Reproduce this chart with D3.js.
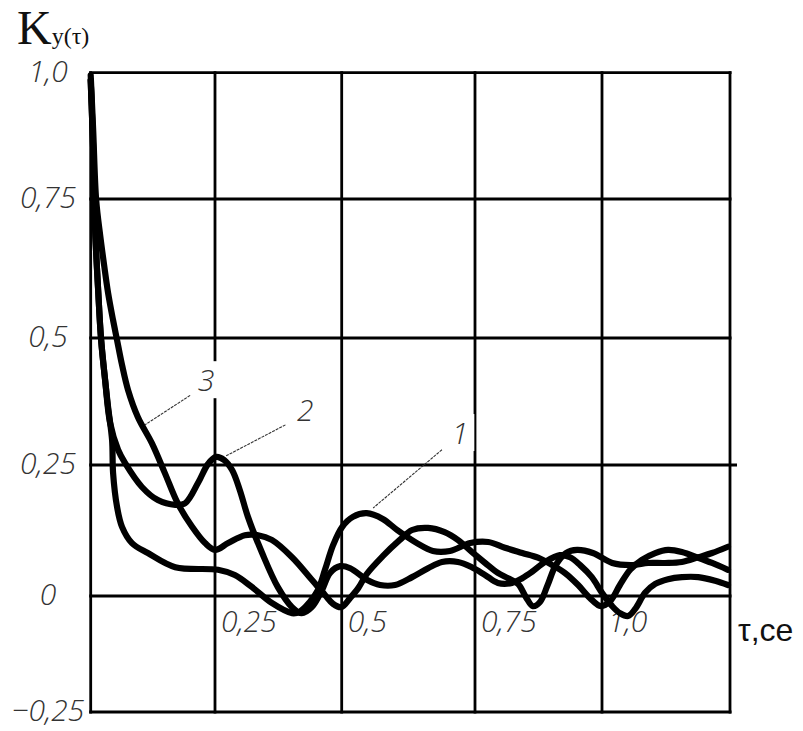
<!DOCTYPE html>
<html>
<head>
<meta charset="utf-8">
<script src="https://cdn.jsdelivr.net/npm/d3@7"></script>
<style>
  body { margin: 0; background: #fff; }
  svg { display: block; }
  .tick { font-family: "Open Sans", "DejaVu Sans Condensed", sans-serif; font-style: italic; font-weight: 300; font-stretch: 90%; font-size: 30px; fill: #333; }
</style>
</head>
<body>
<div id="chart"></div>
<script>
// axis ticks and labels
const xTicks = [0, 0.25, 0.5, 0.75, 1.0, 1.25];
const xTickLabels = ["", "0,25", "0,5", "0,75", "1,0", ""];
const yTicks = [-0.25, 0, 0.25, 0.5, 0.75, 1.0];
const yTickLabels = ["\u22120,25", "0", "0,25", "0,5", "0,75", "1,0"];

// curves: [tau, K]
const curve1 = [[0,0.985],[0.005,0.847],[0.009,0.694],[0.015,0.586],[0.021,0.496],[0.029,0.417],[0.035,0.364],[0.043,0.299],[0.045,0.235],[0.053,0.170],[0.063,0.132],[0.083,0.101],[0.115,0.082],[0.170,0.055],[0.256,0.050],[0.289,0.040],[0.323,0.017],[0.362,-0.015],[0.402,-0.037],[0.417,-0.034],[0.437,-0.013],[0.453,0.011],[0.467,0.050],[0.483,0.097],[0.501,0.132],[0.521,0.151],[0.547,0.158],[0.577,0.147],[0.604,0.126],[0.641,0.101],[0.671,0.086],[0.703,0.086],[0.741,0.101],[0.776,0.103],[0.809,0.092],[0.843,0.082],[0.874,0.073],[0.902,0.059],[0.927,0.044],[0.953,0.021],[0.976,-0.004],[0.998,-0.022],[1.016,-0.011],[1.035,0.021],[1.055,0.050],[1.078,0.069],[1.104,0.082],[1.129,0.088],[1.156,0.084],[1.188,0.073],[1.215,0.063],[1.246,0.050]];
const curve2 = [[0,0.985],[0.005,0.847],[0.009,0.694],[0.015,0.586],[0.021,0.496],[0.029,0.417],[0.039,0.333],[0.055,0.280],[0.069,0.254],[0.103,0.208],[0.135,0.183],[0.170,0.174],[0.190,0.177],[0.216,0.216],[0.236,0.252],[0.252,0.266],[0.268,0.260],[0.284,0.240],[0.299,0.202],[0.315,0.151],[0.343,0.082],[0.374,0.017],[0.402,-0.024],[0.421,-0.037],[0.441,-0.024],[0.461,0.011],[0.477,0.044],[0.497,0.057],[0.516,0.053],[0.547,0.031],[0.572,0.021],[0.600,0.021],[0.632,0.036],[0.662,0.053],[0.688,0.065],[0.718,0.065],[0.744,0.055],[0.770,0.040],[0.795,0.025],[0.823,0.025],[0.843,0.034],[0.862,0.046],[0.888,0.065],[0.917,0.078],[0.937,0.074],[0.957,0.059],[0.980,0.036],[1.000,0.006],[1.020,-0.022],[1.035,-0.037],[1.051,-0.043],[1.066,-0.026],[1.084,0.006],[1.104,0.023],[1.129,0.032],[1.156,0.036],[1.188,0.036],[1.221,0.029],[1.246,0.021]];
const curve3 = [[0,0.995],[0.005,0.886],[0.011,0.748],[0.019,0.685],[0.027,0.631],[0.035,0.581],[0.045,0.532],[0.053,0.496],[0.063,0.447],[0.075,0.398],[0.095,0.344],[0.123,0.293],[0.149,0.235],[0.175,0.177],[0.204,0.132],[0.230,0.101],[0.250,0.088],[0.276,0.101],[0.309,0.116],[0.335,0.116],[0.362,0.107],[0.402,0.074],[0.441,0.031],[0.467,0.002],[0.483,-0.017],[0.499,-0.024],[0.516,-0.004],[0.531,0.015],[0.547,0.042],[0.577,0.076],[0.609,0.107],[0.632,0.126],[0.662,0.130],[0.693,0.122],[0.718,0.107],[0.744,0.084],[0.770,0.063],[0.795,0.044],[0.815,0.034],[0.835,0.023],[0.850,-0.002],[0.864,-0.022],[0.878,-0.013],[0.893,0.021],[0.909,0.059],[0.929,0.082],[0.951,0.088],[0.982,0.082],[1.020,0.063],[1.059,0.059],[1.090,0.063],[1.123,0.063],[1.156,0.065],[1.188,0.074],[1.215,0.082],[1.246,0.094]];

// curve number labels: text position and leader line, in data units
const curveNames = ["1", "2", "3"];
const nameAt = [[0.722, 0.309], [0.428, 0.354], [0.232, 0.413]];
const leaderFrom = [[0.688, 0.280], [0.389, 0.329], [0.200, 0.387]];
const leaderTo = [[0.559, 0.168], [0.272, 0.268], [0.109, 0.329]];

const width = 803, height = 731;

// hand drawn grid is a little uneven, so the scales follow each grid line
const x = d3.scaleLinear().domain(xTicks).range([90.7, 215, 341.7, 475, 602, 730]);
const y = d3.scaleLinear().domain(yTicks).range([712, 596, 465, 338, 199, 72.7]);

const svg = d3.select("#chart").append("svg")
    .attr("width", width)
    .attr("height", height);

// grid
svg.append("g").selectAll("line")
    .data(xTicks)
    .join("line")
    .attr("x1", d => x(d)).attr("x2", d => x(d))
    .attr("y1", y(1.0) - 1.5).attr("y2", y(-0.25) + 1.5)
    .attr("stroke", "#000")
    .attr("stroke-width", 2.8);

svg.append("g").selectAll("line")
    .data(yTicks)
    .join("line")
    .attr("x1", x(0) - 1.5)
    .attr("x2", d => d === 0.25 ? x(1.25) + 7 : x(1.25) + 1.5)
    .attr("y1", d => y(d)).attr("y2", d => y(d))
    .attr("stroke", "#000")
    .attr("stroke-width", 2.8);

// tick labels
svg.append("g").selectAll("text")
    .data(yTicks)
    .join("text")
    .attr("class", "tick")
    .attr("x", 48)
    .attr("y", d => y(d) + 9)
    .attr("text-anchor", "middle")
    .text((d, i) => yTickLabels[i]);

svg.append("g").selectAll("text")
    .data(xTicks)
    .join("text")
    .attr("class", "tick")
    .attr("x", d => x(d) + 6)
    .attr("y", 632)
    .text((d, i) => xTickLabels[i]);

// curves
const line = d3.line()
    .x(d => x(d[0]))
    .y(d => y(d[1]))
    .curve(d3.curveCatmullRom.alpha(0.5));

svg.append("g").selectAll("path")
    .data([curve1, curve2, curve3])
    .join("path")
    .attr("d", line)
    .attr("fill", "none")
    .attr("stroke", "#000")
    .attr("stroke-width", 6.2)
    .attr("stroke-linejoin", "round")
    .attr("stroke-linecap", "round");

// curve numbers with thin leaders
const notes = svg.append("g");
curveNames.forEach((name, i) => {
    const t = notes.append("text")
        .attr("class", "tick")
        .attr("x", x(nameAt[i][0]))
        .attr("y", y(nameAt[i][1]) + 9)
        .attr("text-anchor", "middle")
        .text(name);
    const b = t.node().getBBox();
    notes.insert("rect", "text")
        .attr("x", b.x - 6).attr("y", b.y + 2)
        .attr("width", b.width + 12).attr("height", b.height - 4)
        .attr("fill", "#fff");
    notes.append("line")
        .attr("x1", x(leaderFrom[i][0])).attr("y1", y(leaderFrom[i][1]))
        .attr("x2", x(leaderTo[i][0])).attr("y2", y(leaderTo[i][1]))
        .attr("stroke", "#333")
        .attr("stroke-width", 1.1)
        .attr("stroke-dasharray", "3,1");
});

// axis titles
const title = svg.append("text")
    .attr("x", 17)
    .attr("y", 44)
    .attr("font-family", "'Liberation Serif', 'Times New Roman', serif")
    .attr("fill", "#111");
title.append("tspan").attr("font-size", 48).text("K");
title.append("tspan").attr("font-size", 24).text("y(\u03c4)");

svg.append("text")
    .attr("x", 738)
    .attr("y", 641)
    .attr("font-family", "'Liberation Sans', Arial, sans-serif")
    .attr("font-size", 32)
    .attr("fill", "#111")
    .text("\u03c4,ce");
</script>
</body>
</html>
